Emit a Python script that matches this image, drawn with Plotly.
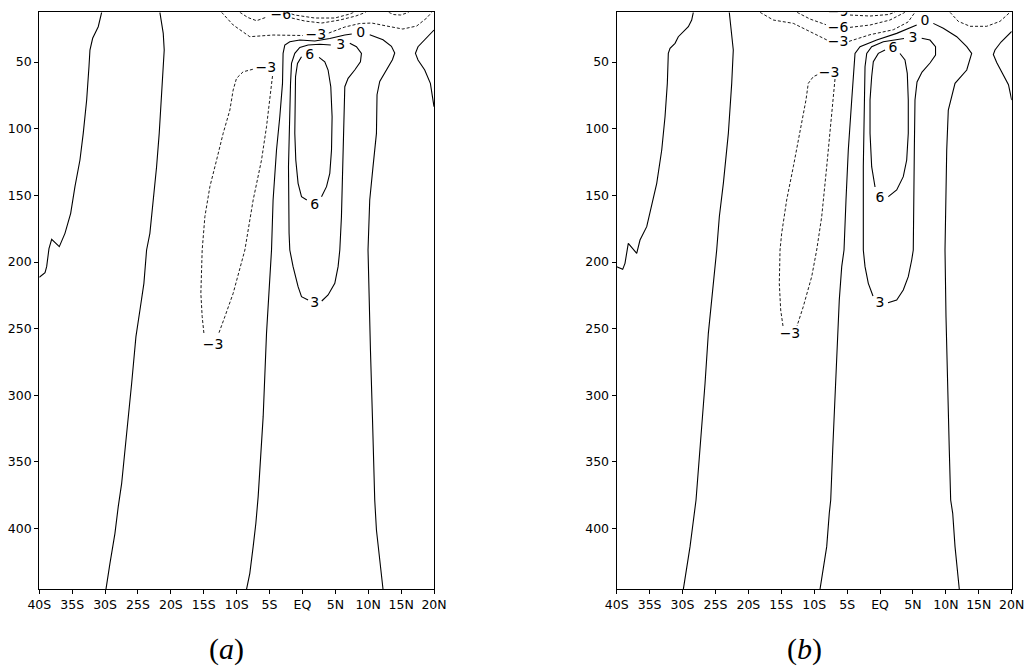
import plotly.graph_objects as go

# ---------------------------------------------------------------
# Axes
# ---------------------------------------------------------------
LAT_RANGE = [-40, 20]
DEPTH_RANGE = [445.5, 12.7]          # depth increases downward
LAT_TICKS = [-40, -35, -30, -25, -20, -15, -10, -5, 0, 5, 10, 15, 20]
LAT_LABELS = ["40S", "35S", "30S", "25S", "20S", "15S", "10S", "5S",
              "EQ", "5N", "10N", "15N", "20N"]
DEPTH_TICKS = [50, 100, 150, 200, 250, 300, 350, 400]
PANEL_TAGS = ["a", "b"]

# ---------------------------------------------------------------
# Panel (a) isolines: value, latitude, depth, label positions
# ---------------------------------------------------------------
A_W0_VAL = 0
A_W0_LAT = [-30.52, -31.04, -31.89, -32.30, -32.45, -32.80, -33.32, -33.82,
            -34.58, -35.23, -36.10, -36.96, -38.12, -38.53, -38.88, -39.13, -40.0]
A_W0_DEP = [12.7, 23.5, 32.2, 41, 53.5, 78.5, 103.5, 123.5,
            143.5, 163.5, 178.5, 188.5, 183, 190, 203.5, 208, 211.5]
A_W0_LBL = []

A_M0_VAL = 0
A_M0_LAT = [-21.67, -21.41, -21.16, -21.01, -21.16, -21.41, -21.77, -22.17, -22.68,
            -23.19, -23.69, -24.10, -24.70, -25.31, -25.96, -26.72, -27.48, -28.00,
            -28.50, -29.26, -29.87]
A_M0_DEP = [12.7, 21, 28.5, 41, 53.5, 73.5, 103.5, 128.5, 153.5,
            178.5, 191, 216, 236, 256, 291, 328.5, 366, 383.5,
            403.5, 426, 445.5]
A_M0_LBL = []

A_N3_VAL = -3
A_N3_LAT = [-5.56, -4.55, -4.70, -4.96, -5.46, -6.22, -7.49, -8.75, -9.77, -10.53,
            -11.79, -12.70, -13.57, -14.98, -15.24, -15.44, -15.33, -15.24, -14.83,
            -14.07, -13.05, -12.05, -11.03, -10.53, -10.02, -9.01, -7.39]
A_N3_DEP = [54.7, 60.5, 67.25, 78.5, 98.5, 123.5, 153.5, 191, 208.5, 223.5,
            241, 253.25, 263, 253.25, 241, 223.5, 203.5, 191, 166,
            143.5, 123.5, 103.5, 86, 71, 62.2, 57.3, 55.25]
A_N3_LBL = [0, 12]

A_U0_VAL = 0
A_U0_LAT = [-8.50, -8.00, -7.49, -7.08, -6.73, -6.48, -5.97, -5.46, -5.06, -4.70,
            -4.46, -3.94, -3.44, -3.03, -2.94, -2.68, -1.92, -0.40, 1.88, 4.16,
            6.44, 7.50, 8.87, 10.23, 12.25, 13.53, 14.03, 13.68, 12.77, 11.75,
            11.34, 11.25, 10.73, 10.23, 9.97, 10.13, 10.34, 10.64, 10.99, 11.25,
            11.75, 12.25]
A_U0_DEP = [445.5, 433.5, 413.5, 396, 376, 353.5, 316, 253.5, 216, 191,
            153.5, 116, 91, 66, 43.5, 37.25, 34.8, 33.5, 34.25, 32.4,
            29.75, 29, 28.6, 29.5, 33.3, 38.2, 43.25, 48.3, 55.8, 64.5,
            74.5, 103.5, 128.5, 153.5, 191, 228.5, 266, 316, 378.5, 401,
            426, 445.5]
A_U0_LBL = [22]

A_P3_VAL = 3
A_P3_LAT = [5.83, 7.20, 8.21, 8.97, 8.82, 7.95, 6.94, 6.44, 6.33, 6.18, 5.93,
            5.68, 5.42, 4.92, 3.90, 2.94, 1.88, 0.86, -0.14, -0.66, -1.42, -1.92,
            -2.03, -2.12, -2.03, -1.92, -1.81, -1.66, -1.16, -0.40, 0.86, 2.64, 4.31]
A_P3_DEP = [37.6, 35.97, 38.5, 43.5, 49.8, 56, 62.2, 68.5, 91, 128.5, 166,
            191, 203.5, 216, 224.75, 229.25, 231, 228.5, 226, 218.5, 203.5, 191,
            178.5, 128.5, 103.5, 78.5, 66, 51, 43.5, 39, 37.25, 36.7, 37.25]
A_P3_LBL = [0, 16]

A_P6_VAL = 6
A_P6_LAT = [1.12, 2.53, 3.40, 3.90, 4.31, 4.51, 4.42, 4.16, 3.66, 2.90, 1.88,
            0.66, -0.14, -0.66, -1.01, -1.16, -1.16, -1.05, -0.75, -0.14]
A_P6_DEP = [44.75, 46.5, 49.8, 56, 68.5, 91, 116, 133.5, 143.5, 151, 157.25,
            153.5, 151, 141, 123.5, 103.5, 78.5, 61, 51, 46]
A_P6_LBL = [0, 10]

A_E0_VAL = 0
A_E0_LAT = [20.0, 18.59, 17.57, 17.18, 17.57, 18.59, 19.45, 20.0]
A_E0_DEP = [26, 33.5, 38.5, 43.5, 48.5, 56, 66, 83.5]
A_E0_LBL = []

A_S3_VAL = -3
A_S3_LAT = [-12.29, -10.53, -8.00, -4.46, 0.06, 2.03, 4.01, 6.44, 8.71, 10.54,
            12.82, 15.25, 17.37, 18.89, 19.65]
A_S3_DEP = [12.7, 22.2, 31, 29.75, 30.1, 30.1, 28.25, 23.75, 21.1, 20.75,
            23, 25.25, 23, 17, 12.7]
A_S3_LBL = [5]

A_S6_VAL = -6
A_S6_LAT = [-9.51, -8.30, -6.98, -5.41, -3.29, -1.61, 0.36, 2.94, 5.68, 8.11, 9.63]
A_S6_DEP = [12.7, 16.6, 19.0, 16.25, 14.75, 17, 19.25, 20.75, 18.5, 15.5, 12.7]
A_S6_LBL = [4]

A_S9_VAL = -9
A_S9_LAT = [-2.37, -1.16, 1.88, 4.92, 7.19, 7.80]
A_S9_DEP = [12.7, 14.75, 17, 17, 14, 12.7]
A_S9_LBL = []

A_T6_VAL = -6
A_T6_LAT = [13.12, 13.88, 14.94, 15.85, 16.16]
A_T6_DEP = [12.7, 14.4, 14.75, 13.6, 12.7]
A_T6_LBL = []

# ---------------------------------------------------------------
# Panel (b) isolines
# ---------------------------------------------------------------
B_W0_VAL = 0
B_W0_LAT = [-28.36, -28.61, -29.12, -29.88, -30.64, -31.14, -31.90, -32.16, -32.31,
            -32.66, -33.16, -33.92, -34.68, -35.44, -36.46, -36.96, -38.24, -38.74,
            -39.09, -40.0]
B_W0_DEP = [12.7, 18.5, 23.5, 27.3, 31, 36, 39.7, 43.5, 66,
            91, 116, 141, 158.5, 173.5, 183.5, 193.5, 186, 201,
            205.5, 203.5]
B_W0_LBL = []

B_M0_VAL = 0
B_M0_LAT = [-22.90, -22.53, -22.29, -22.53, -23.04, -23.80, -24.41, -24.81, -25.32,
            -26.08, -26.58, -27.34, -27.95, -28.86, -29.37, -29.88]
B_M0_DEP = [12.7, 28.5, 41, 66, 103.5, 141, 166, 191, 216,
            253.5, 291, 341, 378.5, 413.5, 431, 445.5]
B_M0_LBL = []

B_N3_VAL = -3
B_N3_LAT = [-7.75, -6.84, -6.99, -7.34, -8.10, -8.86, -9.62, -10.38, -11.66, -12.61,
            -13.68, -14.74, -15.09, -15.30, -15.19, -14.94, -14.18, -13.17, -12.16,
            -11.25, -10.90, -10.14, -9.27]
B_N3_DEP = [58.25, 62.75, 71, 91, 128.5, 166, 191, 211, 233.5, 248,
            254.75, 248, 236, 216, 191, 178.5, 153.5, 128.5, 103.5,
            78.5, 66, 61, 59]
B_N3_LBL = [0, 10]

B_U0_VAL = 0
B_U0_LAT = [-9.12, -8.62, -8.10, -7.71, -7.49, -7.19, -6.84, -6.58, -6.19, -5.82,
            -5.47, -5.17, -4.82, -4.30, -3.95, -3.80, -3.04, -0.51, 2.53, 4.55,
            5.57, 6.83, 8.09, 9.61, 11.65, 13.17, 13.92, 13.17, 11.39, 10.37,
            10.13, 9.97, 9.87, 10.02, 10.22, 10.52, 10.73, 11.04, 11.39, 11.80, 12.04]
B_U0_DEP = [445.5, 431, 413.5, 388.5, 378.5, 341, 303.5, 266, 228.5, 203.5,
            191, 153.5, 116, 78.5, 53.5, 43.5, 38.5, 33.5, 28.5, 24.7,
            22.25, 19.8, 21, 24.7, 31, 38.5, 43.5, 56, 66, 86,
            116, 153.5, 191, 241, 291, 341, 378.5, 388.5, 413.5, 431, 445.5]
B_U0_LBL = [21]

B_P3_VAL = 3
B_P3_LAT = [5.01, 6.33, 7.59, 8.43, 8.43, 7.59, 6.38, 5.62, 5.31, 5.21, 5.16, 5.05,
            4.81, 4.29, 3.53, 2.53, 1.21, 0.0, -1.07, -1.78, -2.28, -2.54, -2.54,
            -2.44, -2.28, -2.02, -1.27, 0.50, 3.64]
B_P3_DEP = [32.4, 32.2, 33.5, 38.5, 44.75, 50.75, 57.5, 65, 78.5, 116, 153.5, 191,
            198.5, 211, 221, 228.5, 230.5, 231, 225.5, 216, 203.5, 191, 128.5,
            78.5, 53.5, 43.5, 38.5, 34.8, 32.4]
B_P3_LBL = [0, 17]

B_P6_VAL = 6
B_P6_LAT = [1.97, 3.03, 3.79, 4.14, 4.29, 4.29, 4.05, 3.53, 2.53, 1.26, 0.0,
            -0.76, -1.27, -1.52, -1.52, -1.27, -1.02, -0.26, 0.76]
B_P6_DEP = [39.5, 43.6, 48.5, 58.5, 78.5, 103.5, 123.5, 136, 146, 151, 152.2,
            143.75, 128.5, 103.5, 78.5, 61, 49.8, 43.5, 41]
B_P6_LBL = [0, 10]

B_E0_VAL = 0
B_E0_LAT = [20.0, 18.38, 17.46, 17.21, 17.72, 18.72, 19.51, 20.0]
B_E0_DEP = [27.1, 35, 41, 44.4, 50.4, 59.5, 67, 78.5]
B_E0_LBL = []

B_S3_VAL = -3
B_S3_LAT = [-18.23, -16.21, -13.17, -11.14, -9.12, -8.06, -6.38, -4.71, -1.52,
            2.02, 4.25, 5.31]
B_S3_DEP = [12.7, 18.5, 21, 26, 31, 33.5, 35.25, 34.5, 29.5,
            25.8, 20, 12.7]
B_S3_LBL = [6]

B_S6_VAL = -6
B_S6_LAT = [-12.61, -10.64, -8.21, -6.38, -4.56, -1.52, 1.51, 3.03, 3.79]
B_S6_DEP = [12.7, 17.75, 22.0, 24.5, 24.0, 22.25, 18.5, 14.75, 12.7]
B_S6_LBL = [3]

B_S9_VAL = -9
B_S9_LAT = [-6.38, -4.56, -1.52, 1.21, 2.27]
B_S9_DEP = [13.0, 14.75, 15.5, 14.4, 12.7]
B_S9_LBL = [0]

B_T3_VAL = -3
B_T3_LAT = [10.63, 11.89, 13.67, 16.20, 18.22, 19.74]
B_T3_DEP = [12.7, 19.5, 23.2, 23.2, 19.5, 12.7]
B_T3_LBL = []

PANEL_A = [
    (A_W0_VAL, A_W0_LAT, A_W0_DEP, A_W0_LBL),
    (A_M0_VAL, A_M0_LAT, A_M0_DEP, A_M0_LBL),
    (A_N3_VAL, A_N3_LAT, A_N3_DEP, A_N3_LBL),
    (A_U0_VAL, A_U0_LAT, A_U0_DEP, A_U0_LBL),
    (A_P3_VAL, A_P3_LAT, A_P3_DEP, A_P3_LBL),
    (A_P6_VAL, A_P6_LAT, A_P6_DEP, A_P6_LBL),
    (A_E0_VAL, A_E0_LAT, A_E0_DEP, A_E0_LBL),
    (A_S3_VAL, A_S3_LAT, A_S3_DEP, A_S3_LBL),
    (A_S6_VAL, A_S6_LAT, A_S6_DEP, A_S6_LBL),
    (A_S9_VAL, A_S9_LAT, A_S9_DEP, A_S9_LBL),
    (A_T6_VAL, A_T6_LAT, A_T6_DEP, A_T6_LBL),
]
PANEL_B = [
    (B_W0_VAL, B_W0_LAT, B_W0_DEP, B_W0_LBL),
    (B_M0_VAL, B_M0_LAT, B_M0_DEP, B_M0_LBL),
    (B_N3_VAL, B_N3_LAT, B_N3_DEP, B_N3_LBL),
    (B_U0_VAL, B_U0_LAT, B_U0_DEP, B_U0_LBL),
    (B_P3_VAL, B_P3_LAT, B_P3_DEP, B_P3_LBL),
    (B_P6_VAL, B_P6_LAT, B_P6_DEP, B_P6_LBL),
    (B_E0_VAL, B_E0_LAT, B_E0_DEP, B_E0_LBL),
    (B_S3_VAL, B_S3_LAT, B_S3_DEP, B_S3_LBL),
    (B_S6_VAL, B_S6_LAT, B_S6_DEP, B_S6_LBL),
    (B_S9_VAL, B_S9_LAT, B_S9_DEP, B_S9_LBL),
    (B_T3_VAL, B_T3_LAT, B_T3_DEP, B_T3_LBL),
]

LABEL_FONT = dict(family="DejaVu Sans", size=14, color="#000000")
TICK_FONT = dict(family="DejaVu Sans", size=12.5, color="#000000")


def value_text(v):
    return ("\u2212%d" % -v) if v < 0 else "%d" % v


def add_panel(fig, isolines, xa, ya):
    tx, ty, tt = [], [], []
    for value, lat, dep, lbl in isolines:
        # the line is broken where its value label sits
        xs = [None if i in lbl else v for i, v in enumerate(lat)]
        ys = [None if i in lbl else v for i, v in enumerate(dep)]
        if value < 0:
            line = dict(color="black", width=0.9, dash="3px,2px")
        else:
            line = dict(color="black", width=1.1)
        fig.add_trace(go.Scatter(x=xs, y=ys, mode="lines", line=line,
                                 connectgaps=False, hoverinfo="skip",
                                 showlegend=False, xaxis=xa, yaxis=ya))
        for i in lbl:
            tx.append(lat[i])
            ty.append(dep[i])
            tt.append(value_text(value))
    fig.add_trace(go.Scatter(x=tx, y=ty, text=tt, mode="text",
                             textposition="middle center", textfont=LABEL_FONT,
                             cliponaxis=True, hoverinfo="skip", showlegend=False,
                             xaxis=xa, yaxis=ya))


fig = go.Figure()
add_panel(fig, PANEL_A, "x", "y")
add_panel(fig, PANEL_B, "x2", "y2")

Y_DOMAIN = [1 - 589.3 / 668, 1 - 12.3 / 668]
X_DOMAINS = [[39.3 / 1028, 434 / 1028], [616.7 / 1028, 1011.7 / 1028]]
TAG_X = [226.7 / 1028, 804.5 / 1028]
TAG_Y = 1 - 649 / 668

xaxis_style = dict(range=LAT_RANGE, autorange=False, tickmode="array",
                   tickvals=LAT_TICKS, ticktext=LAT_LABELS, ticks="outside",
                   ticklen=4, tickwidth=1, tickcolor="black", showline=True,
                   mirror=True, linecolor="black", linewidth=1.3, showgrid=False,
                   zeroline=False, tickfont=TICK_FONT, automargin=False,
                   fixedrange=True)
yaxis_style = dict(range=DEPTH_RANGE, autorange=False, tickmode="array",
                   tickvals=DEPTH_TICKS, ticks="outside", ticklen=4, tickwidth=1,
                   tickcolor="black", showline=True, mirror=True, linecolor="black",
                   linewidth=1.3, showgrid=False, zeroline=False, tickfont=TICK_FONT,
                   domain=Y_DOMAIN, automargin=False, fixedrange=True)

fig.update_layout(
    template="none",
    width=1028, height=668,
    margin=dict(l=0, r=0, t=0, b=0, pad=0),
    paper_bgcolor="white", plot_bgcolor="white",
    font=dict(family="DejaVu Sans", color="#000000"),
    xaxis=dict(xaxis_style, domain=X_DOMAINS[0], anchor="y"),
    yaxis=dict(yaxis_style, anchor="x"),
    xaxis2=dict(xaxis_style, domain=X_DOMAINS[1], anchor="y2"),
    yaxis2=dict(yaxis_style, anchor="x2"),
    showlegend=False,
)

for tag, tx in zip(PANEL_TAGS, TAG_X):
    fig.add_annotation(text="(<i>%s</i>)" % tag, xref="paper", yref="paper",
                       x=tx, y=TAG_Y, xanchor="center", yanchor="middle",
                       showarrow=False,
                       font=dict(family="Liberation Serif", size=30, color="black"))

fig.write_html("out.html")
